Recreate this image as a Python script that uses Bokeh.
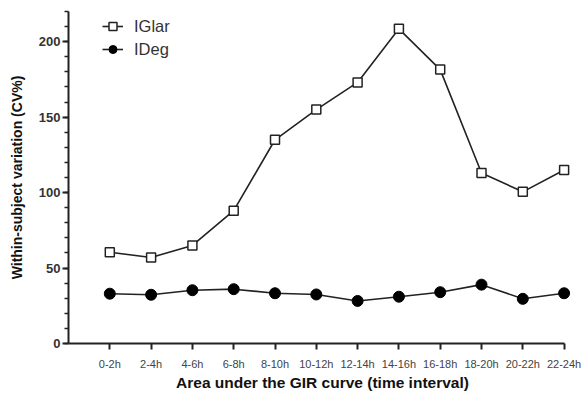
from bokeh.plotting import figure
from bokeh.models import Range1d, Legend, LegendItem, FixedTicker, ColumnDataSource
from bokeh.embed import file_html
from bokeh.resources import INLINE

categories = ["0-2h", "2-4h", "4-6h", "6-8h", "8-10h", "10-12h", "12-14h",
              "14-16h", "16-18h", "18-20h", "20-22h", "22-24h"]
iglar = [60.5, 57, 65, 88, 135, 155, 173, 208.5, 181.5, 113, 100.5, 115]
ideg = [33, 32.3, 35.3, 36, 33.3, 32.5, 28.2, 31, 34, 39, 29.6, 33.3]
y_ticks = [0, 50, 100, 150, 200]

xs = list(range(1, len(categories) + 1))
src = ColumnDataSource(dict(x=xs, iglar=iglar, ideg=ideg))

p = figure(width=585, height=393, output_backend="svg", toolbar_location=None,
           x_range=Range1d(0, 12.3), y_range=Range1d(0, 220),
           min_border_left=68, min_border_right=9, min_border_top=11, min_border_bottom=46)
p.outline_line_color = None
p.grid.visible = False
p.background_fill_color = "white"

FONT = "Liberation Sans"

l1 = p.line("x", "iglar", source=src, line_color="#222222", line_width=1.6)
m1 = p.scatter("x", "iglar", source=src, marker="square", size=9,
               fill_color="white", line_color="#222222", line_width=1.5)
l2 = p.line("x", "ideg", source=src, line_color="#222222", line_width=1.6)
m2 = p.scatter("x", "ideg", source=src, marker="circle", size=11,
               fill_color="black", line_color="black")

# x axis
xa = p.xaxis[0]
xa.ticker = FixedTicker(ticks=xs)
xa.major_label_overrides = {i: c for i, c in zip(xs, categories)}
xa.bounds = (0, 12)
xa.axis_line_width = 2
xa.axis_line_color = "#222222"
xa.major_tick_line_width = 2
xa.major_tick_line_color = "#222222"
xa.major_tick_out = 6
xa.major_tick_in = 0
xa.minor_tick_line_color = None
xa.major_label_text_font = FONT
xa.major_label_text_font_size = "11px"
xa.major_label_text_color = "#444444"
xa.major_label_standoff = 8
xa.axis_label = "Area under the GIR curve (time interval)"
xa.axis_label_text_font = FONT
xa.axis_label_text_font_size = "15.5px"
xa.axis_label_text_font_style = "bold"
xa.axis_label_text_color = "#111111"
xa.axis_label_standoff = 1

# y axis
ya = p.yaxis[0]
ya.ticker = FixedTicker(ticks=y_ticks, minor_ticks=list(range(0, 221, 10)))
ya.axis_line_width = 2
ya.axis_line_color = "#222222"
ya.major_tick_line_width = 2
ya.major_tick_line_color = "#222222"
ya.major_tick_out = 6
ya.major_tick_in = 0
ya.minor_tick_line_width = 1.5
ya.minor_tick_line_color = "#222222"
ya.minor_tick_out = 4
ya.minor_tick_in = 0
ya.major_label_text_font = FONT
ya.major_label_text_font_size = "13px"
ya.major_label_text_font_style = "bold"
ya.major_label_text_color = "#333333"
ya.major_label_standoff = 2
ya.axis_label = "Within-subject variation (CV%)"
ya.axis_label_text_font = FONT
ya.axis_label_text_font_size = "14px"
ya.axis_label_text_font_style = "bold"
ya.axis_label_text_color = "#111111"
ya.axis_label_standoff = 11

legend = Legend(items=[LegendItem(label="IGlar", renderers=[l1, m1]),
                       LegendItem(label="IDeg", renderers=[l2, m2])],
                location=(34, 284), orientation="vertical")
legend.border_line_color = None
legend.background_fill_alpha = 0
legend.padding = 0
legend.margin = 0
legend.spacing = 3
legend.glyph_width = 21
legend.glyph_height = 20
legend.label_height = 20
legend.label_standoff = 11
legend.label_text_font = FONT
legend.label_text_font_size = "16.5px"
legend.label_text_color = "#333333"
p.add_layout(legend, "center")

open("out.html", "w").write(file_html(p, INLINE))
